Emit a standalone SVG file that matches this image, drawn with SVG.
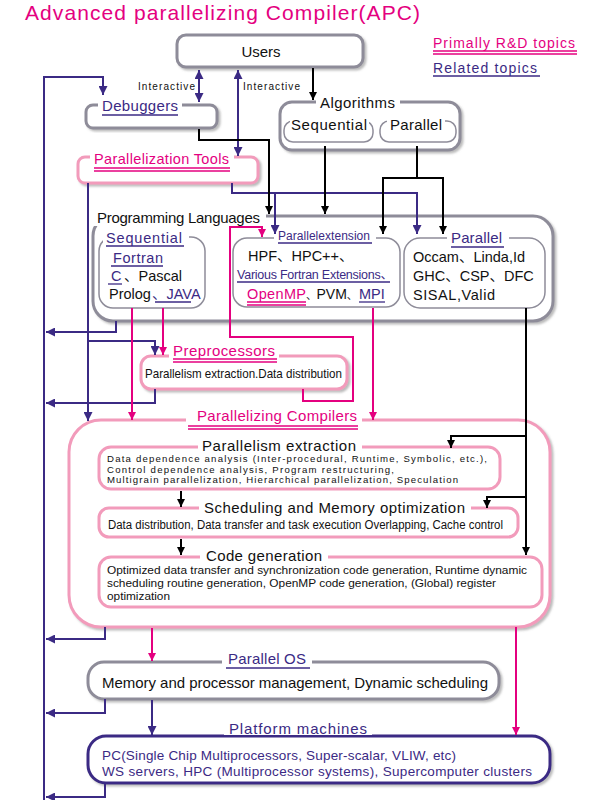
<svg xmlns="http://www.w3.org/2000/svg" width="600" height="800" viewBox="0 0 600 800">
<defs>
<style>
text{font-family:"Liberation Sans","Noto Sans CJK JP",Arial,sans-serif;fill:#111}
.mag{fill:#e4007f}
.nav{fill:#3b2a84}
.gbox{fill:#fff;stroke:#8e8c99;stroke-width:3}
.pbox{fill:#fff;stroke:#f29bbb;stroke-width:3}
.nbox{fill:#fff;stroke:#3b2a84;stroke-width:3}
.bg{fill:#fff;stroke:none}
.ul{stroke:#3b2a84;stroke-width:1.3}
.um{stroke:#e4007f;stroke-width:1.3}
.cn{fill:none;stroke:#3b2a84;stroke-width:2}
.cb{fill:none;stroke:#000;stroke-width:2}
.cm{fill:none;stroke:#e4007f;stroke-width:2}
</style>
<marker id="an" viewBox="0 0 10 10" refX="10" refY="5" markerWidth="9" markerHeight="9" markerUnits="userSpaceOnUse" orient="auto-start-reverse"><path d="M0,0L10,5L0,10z" fill="#3b2a84"/></marker>
<marker id="ab" viewBox="0 0 10 10" refX="10" refY="5" markerWidth="8" markerHeight="8" markerUnits="userSpaceOnUse" orient="auto-start-reverse"><path d="M0,0L10,5L0,10z" fill="#000"/></marker>
<marker id="am" viewBox="0 0 10 10" refX="10" refY="5" markerWidth="8" markerHeight="8" markerUnits="userSpaceOnUse" orient="auto-start-reverse"><path d="M0,0L10,5L0,10z" fill="#e4007f"/></marker>
<filter id="sh" x="-5%" y="-10%" width="115%" height="130%"><feDropShadow dx="2" dy="2" stdDeviation="1.2" flood-color="#777" flood-opacity="0.5"/></filter>
</defs>
<rect width="600" height="800" fill="#fff"/>

<text x="25" y="20" font-size="21" class="mag" textLength="395">Advanced parallelizing Compiler(APC)</text>

<g id="legend">
<text x="433" y="48" font-size="14" class="mag" textLength="142">Primally R&amp;D topics</text>
<line x1="433" y1="51" x2="577" y2="51" class="um"/>
<line x1="433" y1="54" x2="577" y2="54" class="um"/>
<text x="433" y="73" font-size="14" class="nav" textLength="104">Related topics</text>
<line x1="433" y1="76" x2="540" y2="76" class="ul"/>
</g>

<g id="users">
<rect x="177" y="35" width="186" height="32" rx="9" class="gbox" filter="url(#sh)"/>
<text x="261" y="57" font-size="15" text-anchor="middle">Users</text>
</g>

<g id="debuggers">
<rect x="86" y="105" width="131" height="23" rx="7" class="gbox" filter="url(#sh)"/>
<rect x="98" y="97" width="84" height="15" class="bg"/>
<text x="102" y="111" font-size="15" class="nav" textLength="76">Debuggers</text>
<line x1="102" y1="115" x2="178" y2="115" class="ul"/>
</g>

<g id="algorithms">
<rect x="280" y="102" width="180" height="48" rx="12" class="gbox" filter="url(#sh)"/>
<rect x="316" y="95" width="84" height="15" class="bg"/>
<text x="320" y="108" font-size="15" textLength="75">Algorithms</text>
<rect x="284" y="121" width="89" height="21" rx="9" fill="none" stroke="#8e8c99" stroke-width="1.5"/>
<rect x="290" y="117" width="79" height="14" class="bg"/>
<text x="291" y="130" font-size="15" textLength="76">Sequential</text>
<rect x="380" y="121" width="76" height="21" rx="9" fill="none" stroke="#8e8c99" stroke-width="1.5"/>
<rect x="387" y="117" width="58" height="14" class="bg"/>
<text x="390" y="130" font-size="15" textLength="52">Parallel</text>
</g>

<g id="partools">
<rect x="78" y="157" width="180" height="26" rx="7" class="pbox" filter="url(#sh)"/>
<rect x="90" y="149" width="144" height="24" class="bg"/>
<text x="94" y="164" font-size="14.5" class="mag" textLength="135">Parallelization Tools</text>
<line x1="94" y1="168" x2="230" y2="168" class="um"/>
<line x1="94" y1="171" x2="230" y2="171" class="um"/>
</g>

<g id="proglang">
<rect x="93" y="216" width="460" height="105" rx="20" class="gbox" filter="url(#sh)"/>
<rect x="90" y="208" width="176" height="18" class="bg"/>
<text x="97" y="223" font-size="15" textLength="163">Programming Languages</text>
</g>

<g id="seqlang">
<rect x="99" y="237" width="106" height="71" rx="14" fill="#fff" stroke="#8e8c99" stroke-width="1.5"/>
<rect x="103" y="231" width="86" height="18" class="bg"/>
<text x="106" y="243" font-size="14.5" class="nav" textLength="76">Sequential</text>
<line x1="106" y1="246" x2="184" y2="246" class="ul"/>
<text x="113" y="263" font-size="14.5" class="nav" textLength="50">Fortran</text>
<line x1="111" y1="266" x2="163" y2="266" class="ul"/>
<text x="111" y="281" font-size="14.5" class="nav">C</text>
<line x1="108" y1="284" x2="122" y2="284" class="ul"/>
<text x="124" y="281" font-size="14.5">、Pascal</text>
<text x="109" y="299" font-size="14.5">Prolog</text>
<text x="152" y="299" font-size="14.5" class="nav">、JAVA</text>
<line x1="155" y1="302" x2="191" y2="302" class="ul"/>
</g>

<g id="parext">
<rect x="233" y="238" width="167" height="69" rx="14" fill="#fff" stroke="#8e8c99" stroke-width="1.5"/>
<rect x="274" y="229" width="102" height="16" class="bg"/>
<text x="278" y="240" font-size="12" class="nav" textLength="92">Parallelextension</text>
<line x1="278" y1="243" x2="372" y2="243" class="ul"/>
<text x="248" y="261" font-size="14.5">HPF、HPC++、</text>
<text x="237" y="279" font-size="12.5" class="nav" textLength="156">Various Fortran Extensions、</text>
<line x1="237" y1="282" x2="390" y2="282" class="ul"/>
<text x="247" y="299" font-size="14.5" class="mag" textLength="59">OpenMP</text>
<line x1="247" y1="302" x2="306" y2="302" class="um"/>
<line x1="247" y1="305" x2="306" y2="305" class="um"/>
<text x="306" y="299" font-size="14"><tspan font-size="10.5">、</tspan>PVM<tspan font-size="10.5">、</tspan></text>
<text x="359" y="299" font-size="14.5" class="nav">MPI</text>
<line x1="359" y1="302" x2="385" y2="302" class="ul"/>
</g>

<g id="parlang">
<rect x="404" y="238" width="141" height="70" rx="16" fill="#fff" stroke="#8e8c99" stroke-width="1.5"/>
<rect x="447" y="230" width="62" height="18" class="bg"/>
<text x="451" y="243" font-size="15" class="nav" textLength="51">Parallel</text>
<line x1="451" y1="247" x2="504" y2="247" class="ul"/>
<text x="413" y="262" font-size="14.5">Occam、Linda,Id</text>
<text x="413" y="281" font-size="14.5">GHC、CSP、DFC</text>
<text x="413" y="300" font-size="14.5" textLength="82">SISAL,Valid</text>
</g>

<g id="preproc">
<rect x="141" y="356" width="206" height="33" rx="10" class="pbox" filter="url(#sh)"/>
<rect x="169" y="343" width="110" height="21" class="bg"/>
<text x="173" y="356" font-size="15" class="mag" textLength="102">Preprocessors</text>
<line x1="173" y1="359" x2="277" y2="359" class="um"/>
<line x1="173" y1="362" x2="277" y2="362" class="um"/>
<text x="145" y="378" font-size="13" textLength="197" lengthAdjust="spacingAndGlyphs">Parallelism extraction.Data distribution</text>
</g>

<g id="compilers">
<rect x="69" y="420" width="481" height="207" rx="32" class="pbox" filter="url(#sh)"/>
<rect x="186" y="407" width="176" height="25" class="bg"/>
<text x="197" y="421" font-size="15" class="mag" textLength="160">Parallelizing Compilers</text>
<line x1="188" y1="426" x2="358" y2="426" class="um"/>
<line x1="188" y1="429" x2="358" y2="429" class="um"/>
</g>

<g id="parextract">
<rect x="99" y="447" width="401" height="42" rx="12" class="pbox"/>
<rect x="198" y="438" width="164" height="14" class="bg"/>
<text x="202" y="451" font-size="15" textLength="154">Parallelism extraction</text>
<text x="107" y="462" font-size="9.6" textLength="380">Data dependence analysis (Inter-procedural, Runtime, Symbolic, etc.),</text>
<text x="107" y="472.5" font-size="9.6" textLength="287">Control dependence analysis, Program restructuring,</text>
<text x="107" y="483" font-size="9.6" textLength="351">Multigrain parallelization, Hierarchical parallelization, Speculation</text>
</g>

<g id="scheduling">
<rect x="99" y="508" width="419" height="29" rx="10" class="pbox"/>
<rect x="199" y="499" width="272" height="14" class="bg"/>
<text x="204" y="513" font-size="15" textLength="261">Scheduling and Memory optimization</text>
<text x="108" y="529" font-size="12" textLength="395" lengthAdjust="spacingAndGlyphs">Data distribution, Data transfer and task execution Overlapping, Cache control</text>
</g>

<g id="codegen">
<rect x="99" y="557" width="443" height="50" rx="12" class="pbox"/>
<rect x="200" y="548" width="128" height="14" class="bg"/>
<text x="206" y="561" font-size="15" textLength="116">Code generation</text>
<text x="107" y="574" font-size="11.5" textLength="420" lengthAdjust="spacingAndGlyphs">Optimized data transfer and synchronization code generation, Runtime dynamic</text>
<text x="107" y="587" font-size="11.5" textLength="389" lengthAdjust="spacingAndGlyphs">scheduling routine generation, OpenMP code generation, (Global) register</text>
<text x="107" y="600" font-size="11.5" textLength="63" lengthAdjust="spacingAndGlyphs">optimization</text>
</g>

<g id="paros">
<rect x="88" y="662" width="411" height="37" rx="16" class="gbox" filter="url(#sh)"/>
<rect x="222" y="650" width="90" height="20" class="bg"/>
<text x="228" y="664" font-size="15" class="nav" textLength="78">Parallel OS</text>
<line x1="226" y1="668" x2="310" y2="668" class="ul"/>
<text x="102" y="688" font-size="15" textLength="386">Memory and processor management, Dynamic scheduling</text>
</g>

<g id="platform">
<rect x="88" y="736" width="462" height="47" rx="18" class="nbox" filter="url(#sh)"/>
<rect x="224" y="722" width="148" height="13" class="bg"/>
<text x="229" y="734" font-size="15" class="nav" textLength="138">Platform machines</text>
<text x="102" y="760" font-size="13.5" class="nav" textLength="354">PC(Single Chip Multiprocessors, Super-scalar, VLIW, etc)</text>
<text x="102" y="776" font-size="13.5" class="nav" textLength="430">WS servers, HPC (Multiprocessor systems), Supercomputer clusters</text>
</g>

<g id="connectors">
<line x1="199" y1="70" x2="199" y2="102" class="cn" marker-start="url(#an)" marker-end="url(#an)"/>
<text x="138" y="90" font-size="10" textLength="57">Interactive</text>
<line x1="238" y1="70" x2="238" y2="156" class="cn" marker-start="url(#an)" marker-end="url(#an)"/>
<text x="243" y="90" font-size="10" textLength="57">Interactive</text>
<polyline points="44,800 44,77 103,77 103,95" class="cn" marker-end="url(#an)"/>
<polyline points="232,183 232,193 417,193 417,234" class="cn" marker-end="url(#an)"/>
<line x1="275" y1="193" x2="275" y2="234" class="cn" marker-end="url(#an)"/>
<line x1="88" y1="183" x2="88" y2="421" class="cn" marker-end="url(#an)"/>
<polyline points="88,341 155,341 155,355" class="cn" marker-end="url(#an)"/>
<polyline points="116,321 116,332 46,332" class="cn" marker-end="url(#an)"/>
<polyline points="155,389 155,403 46,403" class="cn" marker-end="url(#an)"/>
<polyline points="105,627 105,639 46,639" class="cn" marker-end="url(#an)"/>
<polyline points="105,699 105,713 46,713" class="cn" marker-end="url(#an)"/>
<polyline points="105,783 105,797 46,797" class="cn" marker-end="url(#an)"/>
<line x1="152" y1="700" x2="152" y2="735" class="cn" marker-end="url(#an)"/>

<line x1="313" y1="68" x2="313" y2="100" class="cb" marker-end="url(#ab)"/>
<polyline points="199,129 199,140 269,140 269,214" class="cb" marker-end="url(#ab)"/>
<line x1="325" y1="146" x2="325" y2="214" class="cb" marker-end="url(#ab)"/>
<polyline points="417,146 417,178" class="cb"/>
<polyline points="383,234 383,178 443,178 443,234" class="cb" marker-start="url(#ab)" marker-end="url(#ab)"/>
<line x1="526" y1="308" x2="526" y2="555" class="cb" marker-end="url(#ab)"/>
<polyline points="526,436 451,436 451,448" class="cb" marker-end="url(#ab)"/>
<polyline points="526,497 487,497 487,508" class="cb" marker-end="url(#ab)"/>
<line x1="181" y1="491" x2="181" y2="507" class="cb" marker-end="url(#ab)"/>
<line x1="181" y1="539" x2="181" y2="555" class="cb" marker-end="url(#ab)"/>

<line x1="132" y1="308" x2="132" y2="420" class="cm" marker-end="url(#am)"/>
<line x1="163" y1="308" x2="163" y2="355" class="cm" marker-end="url(#am)"/>
<polyline points="303,389 303,401 353,401 353,337 230,337 230,227 262,227 262,237" class="cm" marker-end="url(#am)"/>
<line x1="373" y1="308" x2="373" y2="420" class="cm" marker-end="url(#am)"/>
<line x1="152" y1="628" x2="152" y2="661" class="cm" marker-end="url(#am)"/>
<line x1="516" y1="627" x2="516" y2="735" class="cm" marker-end="url(#am)"/>
</g>
</svg>
